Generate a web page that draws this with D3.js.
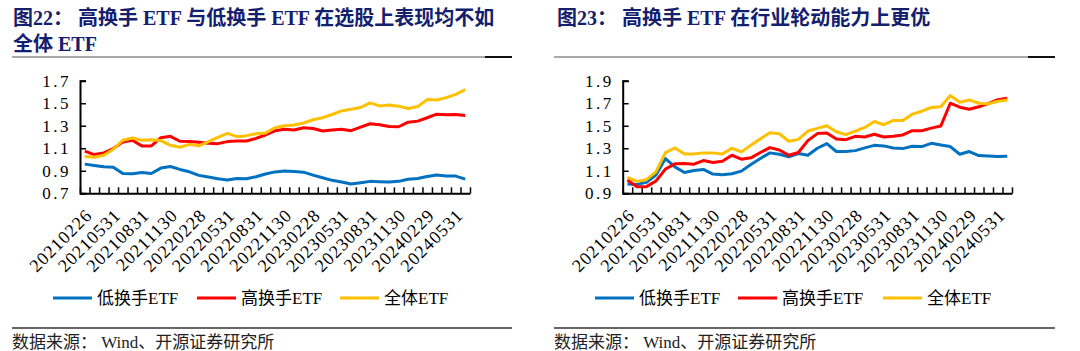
<!DOCTYPE html>
<html>
<head>
<meta charset="utf-8">
<script src="https://cdn.jsdelivr.net/npm/d3@7/dist/d3.min.js"></script>
<style>
  body { margin: 0; background: #fff; }
  svg { display: block; }
</style>
</head>
<body>
<div id="chart"></div>
<script>
// month-end dates, 2021-02 to 2024-06
var dates = ["20210226","20210331","20210430","20210531","20210630","20210730","20210831","20210930","20211029","20211130","20211231",
    "20220128","20220228","20220331","20220429","20220531","20220630","20220729","20220831","20220930","20221031","20221130","20221230",
    "20230131","20230228","20230331","20230428","20230531","20230630","20230731","20230831","20230928","20231031","20231130","20231229",
    "20240131","20240229","20240329","20240430","20240531","20240628"];

// only every third date gets a label
var tickLabels = ["20210226","20210531","20210831","20211130","20220228","20220531","20220831","20221130",
    "20230228","20230531","20230831","20231130","20240229","20240531"];

var seriesNames = ["低换手ETF", "高换手ETF", "全体ETF"];
var seriesColors = ["#0070c0", "#ff0000", "#ffc000"];

// fig 22 - stock selection
var leftLow = [0.959,0.947,0.935,0.932,0.876,0.874,0.885,0.876,0.924,0.938,0.912,0.891,0.859,0.844,0.829,0.818,0.832,0.829,0.847,0.871,0.890,
    0.897,0.894,0.888,0.862,0.838,0.815,0.800,0.782,0.794,0.806,0.803,0.800,0.806,0.824,0.832,0.850,0.862,0.853,0.853,0.826];
var leftHigh = [1.074,1.044,1.059,1.097,1.156,1.171,1.121,1.121,1.194,1.206,1.162,1.159,1.153,1.144,1.141,1.159,1.165,1.165,1.188,1.218,1.255,
    1.268,1.262,1.282,1.276,1.253,1.262,1.268,1.256,1.288,1.318,1.309,1.294,1.291,1.332,1.341,1.371,1.403,1.397,1.400,1.391];
var leftAll = [1.026,1.021,1.038,1.091,1.171,1.191,1.171,1.176,1.168,1.126,1.109,1.135,1.121,1.159,1.197,1.232,1.203,1.212,1.229,1.235,1.282,
    1.300,1.306,1.324,1.353,1.371,1.400,1.432,1.447,1.462,1.503,1.476,1.485,1.474,1.453,1.471,1.532,1.529,1.550,1.579,1.621];

// fig 23 - industry rotation
var rightLow = [0.982,0.979,0.997,1.062,1.209,1.135,1.085,1.103,1.112,1.071,1.065,1.074,1.097,1.156,1.209,1.259,1.247,1.224,1.253,1.238,1.300,
    1.341,1.271,1.271,1.279,1.303,1.326,1.321,1.303,1.297,1.318,1.315,1.344,1.329,1.315,1.247,1.271,1.235,1.232,1.226,1.229];
var rightHigh = [1.018,0.959,0.959,1.009,1.115,1.162,1.165,1.159,1.191,1.174,1.185,1.238,1.203,1.215,1.262,1.306,1.285,1.238,1.262,1.368,1.430,
    1.435,1.382,1.376,1.406,1.400,1.424,1.400,1.406,1.418,1.456,1.456,1.479,1.497,1.700,1.665,1.647,1.668,1.697,1.732,1.744];
var rightAll = [1.041,1.006,1.021,1.091,1.262,1.303,1.250,1.250,1.259,1.259,1.250,1.300,1.268,1.326,1.385,1.438,1.429,1.362,1.379,1.453,1.477,
    1.500,1.447,1.421,1.453,1.485,1.538,1.509,1.547,1.547,1.603,1.629,1.662,1.668,1.768,1.709,1.729,1.700,1.694,1.718,1.729];

var leftTicks = [0.7, 0.9, 1.1, 1.3, 1.5, 1.7];
var rightTicks = [0.9, 1.1, 1.3, 1.5, 1.7, 1.9];

var titleColor = "#14206e";
var serif = "'Liberation Serif', 'Noto Sans CJK SC', serif";

var svg = d3.select("#chart").append("svg")
    .attr("width", 1080)
    .attr("height", 351)
    .style("background", "#fff");

function drawPanel(opt) {
    var g = svg.append("g").attr("transform", "translate(" + opt.left + ",0)");

    // title lines
    opt.title.forEach(function(t, i) {
        g.append("text")
            .attr("x", opt.titleX)
            .attr("y", 25 + i * 26)
            .attr("fill", titleColor)
            .attr("font-family", serif)
            .attr("font-weight", "bold")
            .attr("font-size", 20)
            .style("white-space", "pre")
            .text(t);
    });

    // rule under title + dark tab
    g.append("line").attr("x1", opt.ruleX1).attr("x2", opt.ruleX2)
        .attr("y1", 57).attr("y2", 57).attr("stroke", "#555").attr("stroke-width", 1);
    g.append("line").attr("x1", opt.ruleX2 - 27).attr("x2", opt.ruleX2)
        .attr("y1", 57).attr("y2", 57).attr("stroke", "#111").attr("stroke-width", 2);

    var x = d3.scaleBand()
        .domain(dates)
        .range([opt.x0, opt.x1])
        .paddingInner(0).paddingOuter(0);

    var y = d3.scaleLinear()
        .domain(d3.extent(opt.ticks))
        .range([193.3, 80.7]);

    var step = x.bandwidth();

    // y axis, ticks pointing inward
    var yAxis = d3.axisRight(y)
        .tickValues(opt.ticks)
        .tickSize(6)
        .tickFormat("");
    g.append("g")
        .attr("class", "y-axis")
        .attr("transform", "translate(" + opt.x0 + ",0)")
        .call(yAxis)
        .call(function(s) {
            s.select(".domain").attr("stroke", "#000").attr("stroke-width", 2);
            s.selectAll(".tick line").attr("stroke", "#000").attr("stroke-width", 1.5);
        });

    g.selectAll(".ylab")
        .data(opt.ticks)
        .enter().append("text")
        .attr("x", opt.x0 - 9)
        .attr("y", function(d) { return y(d); })
        .attr("dy", "0.35em")
        .attr("text-anchor", "end")
        .attr("font-family", serif)
        .attr("font-size", 17)
        .attr("letter-spacing", 2.5)
        .attr("fill", "#000")
        .text(function(d) { return d3.format(".1f")(d); });

    // x axis: ticks at category boundaries
    var edges = d3.range(dates.length + 1).map(function(i) { return opt.x0 + i * step; });
    var xAxis = d3.axisTop(d3.scaleLinear().domain([opt.x0, opt.x1]).range([opt.x0, opt.x1]))
        .tickValues(edges)
        .tickSize(6)
        .tickSizeOuter(0)
        .tickFormat("");
    g.append("g")
        .attr("class", "x-axis")
        .attr("transform", "translate(0,193.3)")
        .call(xAxis)
        .call(function(s) {
            s.select(".domain").attr("stroke", "#000").attr("stroke-width", 2);
            s.selectAll(".tick line").attr("stroke", "#000").attr("stroke-width", 1.5);
        });

    g.selectAll(".xlab")
        .data(tickLabels)
        .enter().append("text")
        .attr("transform", function(d) {
            var cx = x(d) + step / 2;
            return "translate(" + (cx + 4) + ",212) rotate(-45)";
        })
        .attr("text-anchor", "end")
        .attr("dy", "0.35em")
        .attr("font-family", serif)
        .attr("font-size", 18)
        .attr("letter-spacing", 1)
        .attr("fill", "#000")
        .text(function(d) { return d; });

    // lines
    var line = d3.line()
        .x(function(d, i) { return x(dates[i]) + step / 2; })
        .y(function(d) { return y(d); });

    opt.series.forEach(function(s, k) {
        g.append("path")
            .datum(s)
            .attr("fill", "none")
            .attr("stroke", seriesColors[k])
            .attr("stroke-width", 3)
            .attr("stroke-linejoin", "round")
            .attr("d", line);
    });

    // legend
    var legX = opt.legendX;
    seriesNames.forEach(function(name, k) {
        g.append("line")
            .attr("x1", legX[k]).attr("x2", legX[k] + 39)
            .attr("y1", 298).attr("y2", 298)
            .attr("stroke", seriesColors[k]).attr("stroke-width", 3);
        g.append("text")
            .attr("x", legX[k] + 44)
            .attr("y", 298)
            .attr("dy", "0.36em")
            .attr("font-family", serif)
            .attr("font-size", 17)
            .attr("fill", "#000")
            .text(name);
    });

    // source
    g.append("line").attr("x1", opt.ruleX1).attr("x2", opt.ruleX2)
        .attr("y1", 328).attr("y2", 328).attr("stroke", "#333").attr("stroke-width", 1.5);
    g.append("text")
        .attr("x", opt.ruleX1)
        .attr("y", 348)
        .attr("font-family", serif)
        .attr("font-size", 17)
        .attr("fill", "#222")
        .style("white-space", "pre")
        .text("数据来源： Wind、开源证券研究所");
}

drawPanel({
    left: 0,
    title: ["图22： 高换手 ETF 与低换手 ETF 在选股上表现均不如", "全体 ETF"],
    titleX: 13,
    ruleX1: 12, ruleX2: 512,
    x0: 80, x1: 470,
    ticks: leftTicks,
    series: [leftLow, leftHigh, leftAll],
    legendX: [53, 197, 340]
});

drawPanel({
    left: 540,
    title: ["图23： 高换手 ETF 在行业轮动能力上更优"],
    titleX: 17,
    ruleX1: 14, ruleX2: 515,
    x0: 82.7, x1: 472,
    ticks: rightTicks,
    series: [rightLow, rightHigh, rightAll],
    legendX: [55, 198, 343]
});
</script>
</body>
</html>
